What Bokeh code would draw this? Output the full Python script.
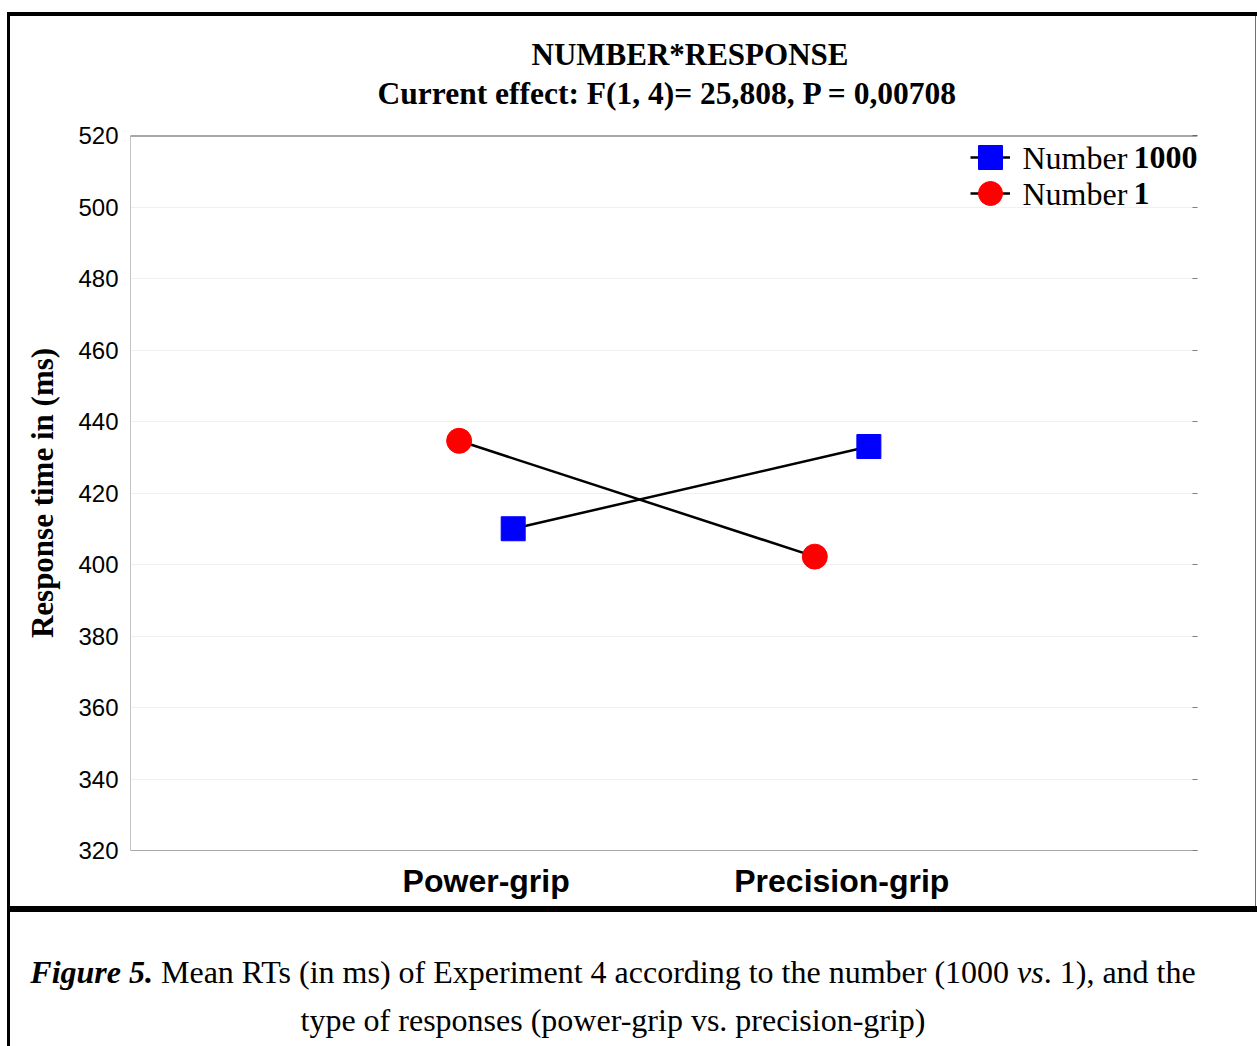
from bokeh.plotting import figure
from bokeh.models import (ColumnDataSource, FactorRange, Range1d, Legend, LegendItem,
                          LinearAxis, Title, Div, Spacer, FixedTicker, Span, Label)
from bokeh.layouts import column, row
from bokeh.transform import dodge
from bokeh.embed import file_html
from bokeh.resources import INLINE

# ---- data ----
categories = ["Power-grip", "Precision-grip"]
number_1000 = [410.0, 433.0]
number_1 = [434.6, 402.2]
y_ticks = [320, 340, 360, 380, 400, 420, 440, 460, 480, 500, 520]
series_prefix = "Number "
series_names = ["1000", "1"]

SERIF = "Liberation Serif"
SANS = "Liberation Sans"

src = ColumnDataSource(dict(cat=categories, n1000=number_1000, n1=number_1))

p = figure(x_range=FactorRange(*categories, range_padding=0.5, range_padding_units="absolute"),
           y_range=Range1d(320, 520),
           width=1245, height=890, output_backend="svg", toolbar_location=None,
           min_border_left=120, min_border_right=58, min_border_top=119, min_border_bottom=56,
           margin=0)

p.background_fill_color = "white"
p.border_fill_color = "white"
p.outline_line_color = None

# titles
p.title.text = "NUMBER*RESPONSE"
p.title.text_font = SERIF
p.title.text_font_size = "31px"
p.title.text_font_style = "bold"
p.title.text_color = "black"
p.title.align = "left"
p.title.offset = 401
p.title.standoff = -45
p.add_layout(Title(text="Current effect: F(1, 4)= 25,808, P = 0,00708", text_font=SERIF,
                   text_font_size="31.5px", text_font_style="bold", text_color="black",
                   align="left", offset=247, standoff=49), "above")

# axes
p.yaxis.ticker = FixedTicker(ticks=y_ticks)
p.yaxis.major_label_text_font = SANS
p.yaxis.major_label_text_font_size = "24px"
p.yaxis.major_label_text_color = "black"
p.yaxis.major_tick_out = 0
p.yaxis.major_tick_in = 0
p.yaxis.minor_tick_out = 0
p.yaxis.minor_tick_in = 0
p.yaxis.major_label_standoff = 12
p.yaxis.axis_line_color = "#c4c4c4"
p.yaxis.axis_label = "Response time in (ms)"
p.yaxis.axis_label_text_font = SERIF
p.yaxis.axis_label_text_font_size = "31px"
p.yaxis.axis_label_text_font_style = "bold"
p.yaxis.axis_label_text_color = "black"
p.yaxis.axis_label_standoff = 15

p.xaxis.major_label_text_font = SANS
p.xaxis.major_label_text_font_size = "32px"
p.xaxis.major_label_text_font_style = "bold"
p.xaxis.major_label_text_color = "black"
p.xaxis.major_tick_out = 0
p.xaxis.major_tick_in = 0
p.xaxis.major_label_standoff = 12
p.xaxis.axis_line_color = "#a8a8a8"

# top frame line
p.add_layout(Span(location=520, dimension="width", line_color="#505050", line_width=2))
# right inner ticks
right_axis = LinearAxis(ticker=FixedTicker(ticks=y_ticks), axis_line_color=None,
                        major_tick_in=5, major_tick_out=0, major_tick_line_color="#808080",
                        minor_tick_line_color=None, major_label_text_font_size="0px",
                        major_label_text_color=None)
p.add_layout(right_axis, "right")

p.xgrid.grid_line_color = None
p.ygrid.ticker = FixedTicker(ticks=y_ticks)
p.ygrid.grid_line_color = "#f0f0f0"
p.ygrid.grid_line_width = 1

# series
off = 0.076
l1000 = p.line(dodge("cat", off, range=p.x_range), "n1000", source=src, line_color="black", line_width=2.5)
m1000 = p.scatter(dodge("cat", off, range=p.x_range), "n1000", source=src, marker="square",
                  size=24, fill_color="#0000ff", line_color="#0000ff")
l1 = p.line(dodge("cat", -off, range=p.x_range), "n1", source=src, line_color="black", line_width=2.5)
m1 = p.scatter(dodge("cat", -off, range=p.x_range), "n1", source=src, marker="circle",
               size=25, fill_color="#ff0000", line_color="#ff0000")

# legend: lines, then big markers on top, then label texts
common = dict(background_fill_alpha=0, border_line_color=None, padding=0, margin=0,
              label_text_font_size="1px", label_standoff=0, label_width=0, spacing=0)
leg_lines = Legend(items=[LegendItem(label=" ", renderers=[l1000]),
                          LegendItem(label=" ", renderers=[l1])],
                   location=(840, 639), glyph_width=40, glyph_height=36, label_height=36, **common)
leg_sq = Legend(items=[LegendItem(label=" ", renderers=[m1000])],
                location=(830, 663), glyph_width=60, glyph_height=60, label_height=60, **common)
leg_ci = Legend(items=[LegendItem(label=" ", renderers=[m1])],
                location=(830, 627), glyph_width=60, glyph_height=60, label_height=60, **common)
p.add_layout(leg_lines)
p.add_layout(leg_sq)
p.add_layout(leg_ci)

for ys, name in zip([693, 657], series_names):
    p.add_layout(Label(x=892, y=ys, x_units="screen", y_units="screen", text=series_prefix,
                       text_font=SERIF, text_font_size="32px", text_color="black",
                       text_baseline="middle"))
    p.add_layout(Label(x=1003, y=ys, x_units="screen", y_units="screen", text=name,
                       text_font=SERIF, text_font_size="32px", text_font_style="bold",
                       text_color="black", text_baseline="middle"))

# frame pieces and caption
top_div = Div(text='<div style="width:1250px;height:12px;margin-left:7px;"></div>'
                   '<div style="width:1250px;height:4px;margin-left:7px;background:black;"></div>',
              width=1257, height=16, margin=0)
left_bar = Div(text='<div style="width:3px;height:1030px;background:black"></div>',
               width=3, height=1030, margin=0)
right_bar = Div(text='<div style="width:1px;height:890px;background:#707070"></div>',
                width=2, height=890, margin=0)

caption_html = (
    '<div style="width:1247px;height:134px;overflow:hidden;border-top:6px solid black;">'
    '<div style="width:1206px;text-align:center;font-family:\'Liberation Serif\';font-size:32px;'
    'line-height:48px;color:black;padding-top:36px;white-space:nowrap;">'
    '<b><i>Figure 5.</i></b> Mean RTs (in ms) of Experiment 4 according to the number (1000 <i>vs</i>. 1), and the<br>'
    'type of responses (power-grip vs. precision-grip)</div></div>'
)
caption = Div(text=caption_html, width=1247, height=140, margin=0)

layout = column(top_div,
                row(Spacer(width=7, margin=0), left_bar,
                    column(row(p, right_bar, margin=0), caption, margin=0), margin=0),
                margin=0)

open("out.html", "w").write(file_html(layout, INLINE))
